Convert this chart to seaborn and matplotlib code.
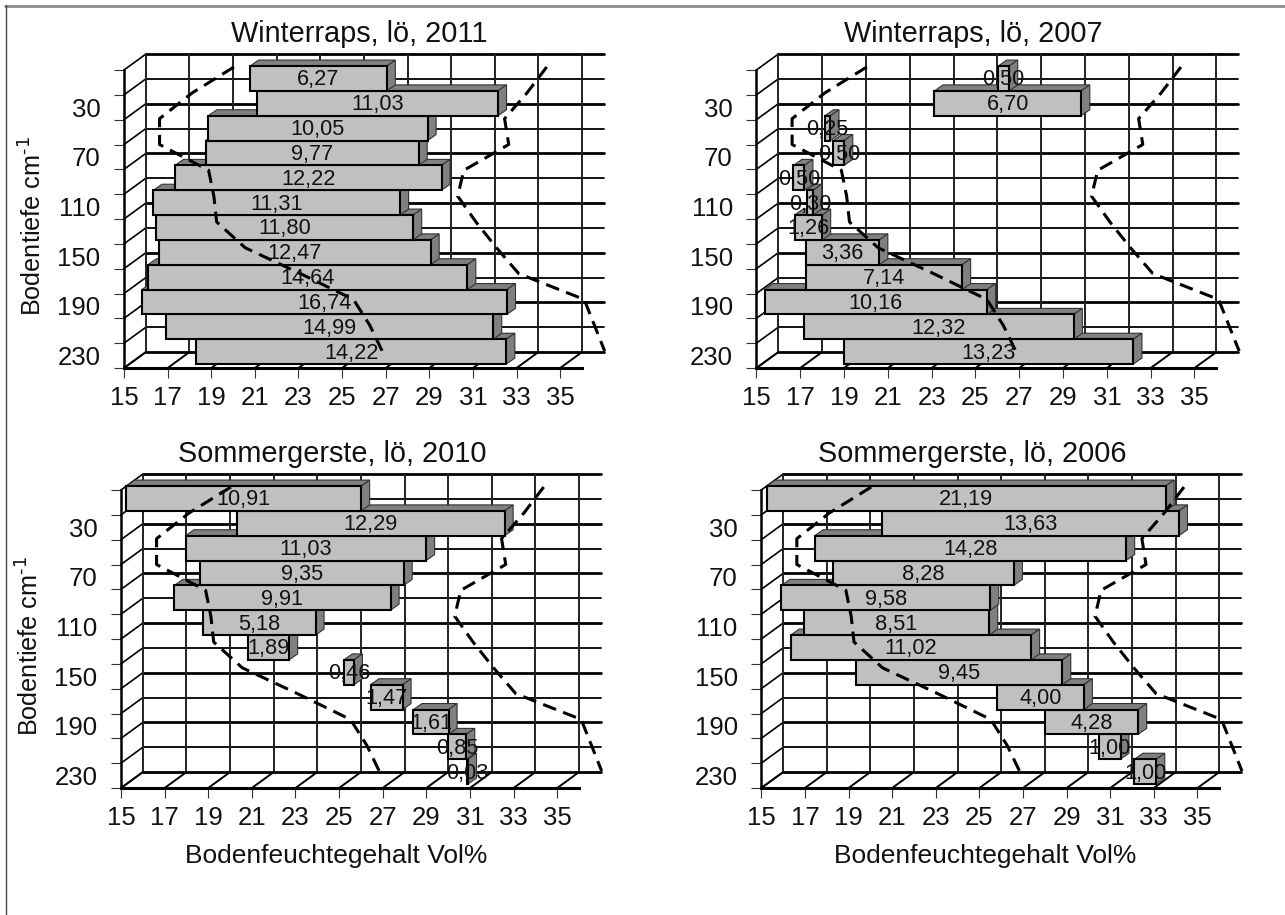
# bodenfeuchte_3d.py
import numpy as np
import pandas as pd
import matplotlib
matplotlib.use("Agg")
import matplotlib.pyplot as plt
from matplotlib.lines import Line2D
import seaborn as sns

# Data
depth_labels = ["10", "30", "50", "70", "90", "110", "130", "150", "170", "190", "210", "230"]
x_ticks = list(range(15, 37, 2))

titles = ["Winterraps, lö, 2011", "Winterraps, lö, 2007",
          "Sommergerste, lö, 2010", "Sommergerste, lö, 2006"]

values_raps_2011 = [6.27, 11.03, 10.05, 9.77, 12.22, 11.31, 11.80, 12.47, 14.64, 16.74, 14.99, 14.22]
starts_raps_2011 = [20.53, 20.87, 18.62, 18.49, 17.09, 16.10, 16.21, 16.34, 15.85, 15.57, 16.69, 18.06]

values_raps_2007 = [0.50, 6.70, 0.25, 0.50, 0.50, 0.30, 1.26, 3.36, 7.14, 10.16, 12.32, 13.23]
starts_raps_2007 = [25.79, 22.88, 17.88, 18.26, 16.44, 17.04, 16.49, 17.00, 17.00, 15.12, 16.92, 18.73]

# some bars begin left of the axis and get cut off at 15
values_gerste_2010 = [10.91, 12.29, 11.03, 9.35, 9.91, 5.18, 1.89, 0.46, 1.47, 1.61, 0.85, 0.03]
starts_gerste_2010 = [14.85, 20.05, 17.71, 18.36, 17.20, 18.49, 20.57, 24.97, 26.19, 28.16, 29.73, 30.63]

values_gerste_2006 = [21.19, 13.63, 14.28, 8.28, 9.58, 8.51, 11.02, 9.45, 4.00, 4.28, 1.00, 1.00]
starts_gerste_2006 = [12.10, 20.27, 17.20, 18.05, 15.67, 16.69, 16.10, 19.10, 25.54, 27.75, 30.22, 31.86]

# dashed limit curves, the same in every panel
limit_low = [20.04, 18.13, 16.63, 16.63, 18.88, 19.12, 19.25, 20.56, 23.09, 25.52, 26.27, 26.84]
limit_high = [34.38, 33.48, 32.45, 32.64, 30.58, 30.30, 31.14, 32.08, 33.10, 36.10, 36.57, 37.04]

panels = [(values_raps_2011, starts_raps_2011), (values_raps_2007, starts_raps_2007),
          (values_gerste_2010, starts_gerste_2010), (values_gerste_2006, starts_gerste_2006)]

# front plane of each panel in pixels: left, bottom, width for 21 units, height
W, H = 1285, 915
frames = [(124, 368, 458, 298), (756.4, 368, 460, 298),
          (121, 788, 458, 298), (761.3, 788, 458, 298)]
title_x = [0.513, 0.471, 0.462, 0.461]
xlabel_x = [0.5, 0.5, 0.469, 0.488]

# 3D look, in data units of the axes
BACK_X, BACK_Y = 1.0, 0.64
BAR_X, BAR_Y = 0.25, 0.16
DEPTH_X, DEPTH_Y = 0.39, 0.24

sns.set_theme(style="white")
plt.rcParams["font.family"] = ["Liberation Sans", "DejaVu Sans"]
plt.rcParams["mathtext.default"] = "regular"

fig = plt.figure(figsize=(W / 100, H / 100), dpi=100)

for n, (values, starts) in enumerate(panels):
    left, bottom, width, height = frames[n]
    ax = fig.add_axes([left / W, 1 - bottom / H, width / W, height / H])
    ax.patch.set_alpha(0)

    # what is visible of each bar right of the axis start
    ends = np.array(starts) + np.array(values)
    shown_start = np.maximum(starts, 15)
    df = pd.DataFrame({"tiefe": depth_labels, "wert": ends - shown_start, "start": shown_start})
    sns.barplot(data=df, x="wert", y="tiefe", orient="y", order=depth_labels, left=df["start"] + BAR_X,
                width=1.0, color="#c0c0c0", saturation=1, edgecolor="black", linewidth=1.5, ax=ax)

    ax.set_xlim(15, 36)
    ax.set_ylim(11.5, -0.5)

    # grid of the back wall, the left wall and the floor
    edges = np.arange(13) - 0.5
    for k, e in enumerate(edges):
        lw = 2.0 if k % 2 == 0 else 1.3
        ax.add_line(Line2D([16, 37], [e - BACK_Y, e - BACK_Y], color="black", lw=lw, clip_on=False, zorder=1))
        ax.add_line(Line2D([15, 16], [e, e - BACK_Y], color="black", lw=1.2, clip_on=False, zorder=1))
    for v in x_ticks:
        ax.add_line(Line2D([v + BACK_X, v + BACK_X], [edges[0] - BACK_Y, edges[-1] - BACK_Y],
                           color="#222222", lw=1.4, clip_on=False, zorder=1))
        ax.add_line(Line2D([v, v + BACK_X], [edges[-1], edges[-1] - BACK_Y], color="black", lw=1.4,
                           clip_on=False, zorder=1))

    # sides and tops of the bars, upper bars lie over lower ones
    for i, bar in enumerate(ax.patches):
        z = 3 + (12 - i) * 0.1
        bar.set_y(i - 0.5 - BAR_Y)
        bar.set_zorder(z + 0.05)
        bar.set_clip_on(False)
        x0 = shown_start[i] + BAR_X
        x1 = ends[i] + BAR_X
        y0 = i - 0.5 - BAR_Y
        y1 = y0 + 1
        ax.fill([x0, x0 + DEPTH_X, x1 + DEPTH_X, x1], [y0, y0 - DEPTH_Y, y0 - DEPTH_Y, y0],
                facecolor="#808080", edgecolor="#333333", lw=0.8, clip_on=False, zorder=z)
        ax.fill([x1, x1 + DEPTH_X, x1 + DEPTH_X, x1], [y0, y0 - DEPTH_Y, y1 - DEPTH_Y, y1],
                facecolor="#808080", edgecolor="#333333", lw=0.8, clip_on=False, zorder=z)
        ax.text((x0 + x1) / 2, (y0 + y1) / 2 + 0.06, f"{values[i]:.2f}".replace(".", ","), ha="center", va="center",
                fontsize=15.7, color="#111111", zorder=11, clip_on=False)

    # dashed curves
    curve_y = np.arange(12) * 1.04 - 0.62
    for curve in (limit_low, limit_high):
        ax.plot(curve, curve_y, color="black", lw=2.2, ls=(0, (4.5, 2.5)), clip_on=False, zorder=10)

    # axes
    sns.despine(ax=ax)
    ax.spines["left"].set_linewidth(1.8)
    ax.spines["left"].set_color("black")
    ax.spines["bottom"].set_linewidth(2.2)
    ax.spines["bottom"].set_color("black")
    ax.set_xticks(x_ticks)
    ax.tick_params(axis="x", bottom=True, length=7, width=0.8, color="#333333", labelsize=18.5, pad=6,
                   labelcolor="#111111")
    ax.set_yticks(edges)
    ax.set_yticklabels([])
    ax.tick_params(axis="y", which="major", left=True, length=7, width=0.8, color="#333333")
    ax.set_yticks(np.arange(1, 12, 2), labels=depth_labels[1::2], minor=True)
    ax.tick_params(axis="y", which="minor", left=False, length=0, labelsize=18.5, pad=17, labelcolor="#111111")

    ax.set_ylabel("Bodentiefe cm$^{\\text{-1}}$" if n % 2 == 0 else "", fontsize=18.2, color="#111111")
    ax.yaxis.set_label_coords(-0.170, 0.477)
    ax.set_xlabel("Bodenfeuchtegehalt Vol%" if n >= 2 else "", fontsize=19, color="#111111")
    ax.xaxis.set_label_coords(xlabel_x[n], -0.188)
    ax.set_title(titles[n], fontsize=20.8, color="#111111", pad=20, x=title_x[n])

# outer frame, only top and left show
fig.add_artist(Line2D([5 / W, 1], [1 - 5.5 / H, 1 - 5.5 / H], color="#8c8c8c", lw=2))
fig.add_artist(Line2D([5.5 / W, 5.5 / W], [0, 1 - 5 / H], color="#444444", lw=1))

fig.savefig("out.png", dpi=100)
